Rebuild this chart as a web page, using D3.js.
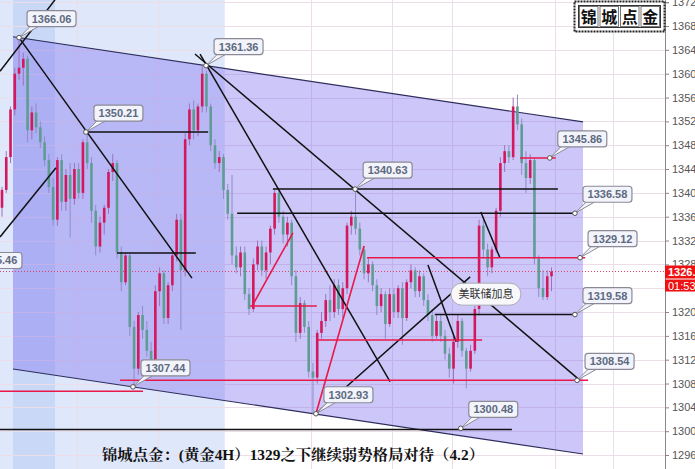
<!DOCTYPE html>
<html><head><meta charset="utf-8">
<script src="https://cdn.jsdelivr.net/npm/d3@7"></script>
<style>html,body{margin:0;padding:0;background:#fff;overflow:hidden}svg{display:block}</style>
</head><body>
<svg id="c" width="695" height="469"></svg>
<script>
// ---------- data ----------
const opens = [1337.5,1340.5,1346,1354,1360,1361,1362.5,1350.5,1353.5,1351,1348.5,1345.5,1341,1335.5,1345.5,1338.5,1343,1339,1344,1340,
1348.5,1345,1337,1331,1335,1337.5,1343.5,1345,1330,1325,1329.5,1317.5,1310.5,1319.5,1317,1313.5,1311,1323.5,1326.5,1319,
1324.5,1329.5,1335.5,1327,1349,1354,1350.5,1354.5,1360,1354.5,1348,1345,1346,1340.5,1336.5,1329.5,1327.5,1330,1323,1320.5,
1328,1331,1327,1330,1334,1340,1336,1333,1335,1326,1316.5,1321.5,1317.5,1310,1309,1316.5,1318.5,1322,1320,1324.5,
1320.5,1324,1334.5,1336,1334,1330.5,1326.5,1328,1324.5,1321,1323,1318,1323,1320,1324,1319,1325,1327,1323.5,1326,
1322,1319.5,1316,1318.5,1316,1313,1310.5,1315,1318.5,1313.5,1310.5,1313.5,1320.5,1334.5,1330.5,1327.5,1330.5,1337,1345,1347,
1346,1354.5,1351.5,1345,1342.5,1345.5,1329,1324,1322.5,1326];
const highs = [1341,1347,1354.5,1361,1366.06,1363.5,1363,1354.5,1355,1352,1349.5,1346.5,1342.5,1346,1346.5,1344,1345,1345,1345,1349,
1350.21,1346,1338,1336,1338,1344,1346.5,1345.5,1331,1330,1330,1318.5,1320,1321,1318.5,1315,1324.5,1327.5,1327,1325,
1330,1336.5,1336.5,1350,1355,1355.5,1355,1361.36,1360.5,1355,1349,1347,1346.5,1341.5,1343,1331,1331,1331,1324,1329,
1332,1332,1331,1334.5,1340.5,1340.5,1337,1336,1335.5,1327,1322.5,1322,1318.5,1311.5,1317,1320,1323,1324.5,1325.5,1325.5,
1325,1335,1337,1340.63,1335,1331,1329,1328.5,1325.5,1324,1323.5,1324,1324,1324.5,1325,1325.5,1328,1327.5,1327,1326.5,
1323,1320.5,1319.5,1319.5,1317,1314,1316,1319.5,1319,1314,1314.5,1321,1335.5,1336,1331.5,1331,1337.5,1346,1348,1348,
1356,1356.5,1352.5,1347,1346.5,1346,1329.5,1327,1327,1327.5];
const lows = [1336,1340,1345,1353,1359,1358,1348.5,1349,1350,1347.5,1344.5,1340,1334.5,1334.5,1337,1337,1332.5,1338,1339,1339,
1344,1335,1329.5,1330,1333,1336.5,1342,1329,1323.5,1324.5,1316,1307.44,1309.5,1315.5,1312.5,1309,1310,1321,1318,1318,
1323.5,1328.5,1317,1326,1348,1349,1349.5,1353.5,1353.5,1347,1344,1343.5,1339,1335.5,1328,1326.5,1326,1322,1319.5,1320,
1327,1326,1325.5,1328,1333,1335,1331.5,1331,1324.5,1315,1315.5,1316.5,1309,1302.93,1308,1315.5,1317.5,1318.5,1319,1319.5,
1319,1323,1333,1333,1329.5,1325.5,1325,1323.5,1319.5,1320,1315.5,1317.5,1319,1319,1314.5,1318.5,1324,1322.5,1322.5,1321,
1318.5,1315,1315.5,1315,1312,1309,1308,1314,1312.5,1307.2,1310,1313,1319.5,1329,1326,1326.5,1330,1336,1343.5,1345,
1345.5,1350.5,1343,1340,1341.5,1328,1322.5,1322,1322,1323.5];
const closes = [1340.5,1346,1354,1360,1361,1362.5,1350.5,1353.5,1351,1348.5,1345.5,1341,1335.5,1345.5,1338.5,1343,1339,1344,1340,1348.5,
1345,1337,1331,1335,1337.5,1343.5,1345,1330,1325,1329.5,1317.5,1310.5,1319.5,1317,1313.5,1311,1323.5,1326.5,1319,1324.5,
1329.5,1335.5,1327,1349,1354,1350.5,1354.5,1360,1354.5,1348,1345,1346,1340.5,1336.5,1329.5,1327.5,1330,1323,1320.5,1328,
1331,1327,1330,1334,1340,1336,1333,1335,1326,1316.5,1321.5,1317.5,1310,1309,1316.5,1318.5,1322,1320,1324.5,1320.5,
1324,1334.5,1336,1334,1330.5,1326.5,1328,1324.5,1321,1323,1318,1323,1320,1324,1319,1325,1327,1323.5,1326,1322,
1319.5,1316,1318.5,1316,1313,1310.5,1315,1318.5,1313.5,1310.5,1313.5,1320.5,1334.5,1330.5,1327.5,1330.5,1337,1345,1347,1346,
1354.5,1351.5,1345,1342.5,1345.5,1329,1324,1322.5,1326,1326.8];

const yTicks = [1296,1300,1304,1308,1312,1316,1320,1324,1328,1332,1336,1340,1344,1348,1352,1356,1360,1364,1368,1372];
const hiddenTickLabels = [1324];   // covered by the live-price box in the reference
const vGridIdx = [17.6, 36.6, 72.5, 91.5, 105.6, 129.8, 143.4];
const currentPrice = 1326.8;
const timerText = "01:53:47";

// channel (index, price)
const channelTop = [[2.58, 1366.2], [136.4, 1351.9]];
const channelBottom = [[2.58, 1310.44], [136.4, 1296.17]];
const blueZone = [-0.5, 52.3];
const blueBand = [2.58, 12.44];

// annotation lines (index, price)
const blackLines = [
  [[4.0,1366.06],[44.6,1325.7]],
  [[-0.47,1332.6],[12.68,1344.2]],
  [[-0.47,1360.4],[12.44,1372.4]],
  [[27.0,1329.9],[45.5,1329.9]],
  [[19.7,1350.21],[48.4,1350.21]],
  [[45.3,1363.3],[135.7,1308.54]],
  [[46.5,1363.3],[91.1,1308.3]],
  [[73.7,1302.93],[109.9,1325.9]],
  [[100.0,1327.9],[106.6,1315.0]],
  [[112.4,1336.8],[116.9,1329.1]],
  [[55.2,1336.58],[134.5,1336.58]],
  [[63.6,1340.63],[130.5,1340.63]],
  [[101.6,1319.58],[134.5,1319.58]],
  [[-0.47,1300.3],[119.7,1300.3]]
];
const redLines = [
  [[85.7,1329.12],[136.9,1329.12]],
  [[121.6,1345.86],[130.0,1345.86]],
  [[27.7,1308.54],[137.6,1308.54]],
  [[-0.47,1306.7],[33.1,1306.7]],
  [[58.7,1321.0],[68.3,1333.3]],
  [[58.2,1321.0],[73.9,1321.0]],
  [[73.9,1315.3],[112.7,1315.3]],
  [[73.7,1302.93],[85.0,1331.1]]
];
// callouts: [index, price, label]
const callouts = [
  [4.0,1366.06,"1366.06"],
  [19.7,1350.21,"1350.21"],
  [47.9,1361.36,"1361.36"],
  [82.9,1340.63,"1340.63"],
  [128.6,1345.86,"1345.86"],
  [134.5,1336.58,"1336.58"],
  [135.7,1329.12,"1329.12"],
  [134.5,1319.58,"1319.58"],
  [135.0,1308.54,"1308.54"],
  [30.75,1307.44,"1307.44"],
  [73.7,1302.93,"1302.93"],
  [107.7,1300.48,"1300.48"],
  [-8.7,1325.46,"1325.46"]
];
const noteText = "美联储加息";
const noteAt = [113.6, 1323.0];
const titleText = "锦城点金：(黄金4H）1329之下继续弱势格局对待（4.2）";
const logoChars = ["锦","城","点","金"];

// ---------- scales ----------
const W = 695, H = 469, axisX = 665;
const x = d3.scaleLinear().domain([0, closes.length - 1]).range([2, 551.5]);
const y = d3.scaleLinear().domain([1296, 1372]).range([455.03, 2.2]);

const svg = d3.select("#c");
svg.append("rect").attr("width", W).attr("height", H).attr("fill", "#ffffff");

// blue zone
svg.append("rect").attr("x", x(blueZone[0])).attr("y", 0)
  .attr("width", x(blueZone[1]) - x(blueZone[0])).attr("height", H).attr("fill", "#dfe7fb");
svg.append("rect").attr("x", x(blueBand[0])).attr("y", 0)
  .attr("width", x(blueBand[1]) - x(blueBand[0])).attr("height", H).attr("fill", "#cad8f7");

// grid
const grid = svg.append("g");
grid.selectAll("line.h").data(yTicks).join("line").attr("class","h")
  .attr("x1", 0).attr("x2", axisX).attr("y1", d => Math.round(y(d)) + 0.5).attr("y2", d => Math.round(y(d)) + 0.5)
  .attr("stroke", "#eddde8").attr("stroke-width", 1);
grid.selectAll("line.v").data(vGridIdx).join("line").attr("class","v")
  .attr("x1", d => Math.round(x(d)) + 0.5).attr("x2", d => Math.round(x(d)) + 0.5).attr("y1", 0).attr("y2", H)
  .attr("stroke", "#eddde8").attr("stroke-width", 1);

// channel
const poly = [channelTop[0], channelTop[1], channelBottom[1], channelBottom[0]];
svg.append("path").attr("d", "M" + poly.map(p => [x(p[0]), y(p[1])].join(",")).join("L") + "Z")
  .attr("fill", "#7c6cf0").attr("fill-opacity", 0.38);
[channelTop, channelBottom].forEach(seg => {
  svg.append("line").attr("x1", x(seg[0][0])).attr("y1", y(seg[0][1]))
    .attr("x2", x(seg[1][0])).attr("y2", y(seg[1][1]))
    .attr("stroke", "#2e2e5c").attr("stroke-width", 1.2);
});

// current price dotted line
svg.append("line").attr("x1", 0).attr("x2", axisX).attr("y1", y(currentPrice)).attr("y2", y(currentPrice))
  .attr("stroke", "#e0406a").attr("stroke-width", 1).attr("stroke-dasharray", "1,2");

// candles
const cw = 2.6;
const cg = svg.append("g");
closes.forEach((c, i) => {
  const o = opens[i], up = c >= o;
  const cx = x(i);
  cg.append("line").attr("x1", cx).attr("x2", cx).attr("y1", y(highs[i])).attr("y2", y(lows[i]))
    .attr("stroke", up ? "#a070b8" : "#8e8cc8").attr("stroke-width", 1);
  const top = y(Math.max(o, c)), bot = y(Math.min(o, c));
  cg.append("rect").attr("x", cx - cw / 2).attr("y", top).attr("width", cw).attr("height", Math.max(1, bot - top))
    .attr("fill", up ? "#d2185e" : "#5f9c94");
});

// lines
const lg = svg.append("g");
blackLines.forEach(s => lg.append("line")
  .attr("x1", x(s[0][0])).attr("y1", y(s[0][1])).attr("x2", x(s[1][0])).attr("y2", y(s[1][1]))
  .attr("stroke", "#111").attr("stroke-width", 1.5));
redLines.forEach(s => lg.append("line")
  .attr("x1", x(s[0][0])).attr("y1", y(s[0][1])).attr("x2", x(s[1][0])).attr("y2", y(s[1][1]))
  .attr("stroke", "#e8184a").attr("stroke-width", 1.6));

// callouts
const cgp = svg.append("g");
callouts.forEach(([ci, cp, label]) => {
  const px = x(ci), py = y(cp);
  const bw = 49, bh = 16, bx = px + 8, by = py - 27;
  cgp.append("path").attr("d", `M${bx + 4},${by + bh - 1}L${px},${py}L${bx + 13},${by + bh - 1}Z`)
    .attr("fill", "#f3f3fb").attr("stroke", "#8a8a96").attr("stroke-width", 1);
  cgp.append("rect").attr("x", bx).attr("y", by).attr("width", bw).attr("height", bh).attr("rx", 3)
    .attr("fill", "#f3f3fb").attr("stroke", "#8a8a96").attr("stroke-width", 1.2);
  cgp.append("text").attr("x", bx + bw / 2).attr("y", by + 12).attr("text-anchor", "middle")
    .attr("font-family", "Liberation Sans, Arial, sans-serif").attr("font-size", 11).attr("font-weight", "bold")
    .attr("fill", "#5c6a80").text(label);
  cgp.append("circle").attr("cx", px).attr("cy", py).attr("r", 2.3)
    .attr("fill", "#fff").attr("stroke", "#555").attr("stroke-width", 1);
});

// note pill
const nx = x(noteAt[0]), ny = y(noteAt[1]);
svg.append("rect").attr("x", nx - 35).attr("y", ny - 11).attr("width", 70).attr("height", 22).attr("rx", 11)
  .attr("fill", "#f8f8fb").attr("stroke", "#aaaab4").attr("stroke-width", 1);
svg.append("text").attr("x", nx).attr("y", ny + 4).attr("text-anchor", "middle")
  .attr("font-family", "Noto Sans CJK SC, sans-serif").attr("font-size", 11).attr("fill", "#333").text(noteText);

// axis
const axis = d3.axisRight(y).tickValues(yTicks)
  .tickFormat(d => hiddenTickLabels.includes(d) ? "" : d3.format(".2f")(d)).tickSize(4).tickPadding(3);
const ag = svg.append("g").attr("transform", `translate(${axisX},0)`).call(axis);
ag.select(".domain").attr("stroke", "#888");
ag.selectAll(".tick line").attr("stroke", "#888");
ag.selectAll(".tick text").attr("font-family", "Liberation Sans, Arial, sans-serif").attr("font-size", 11).attr("fill", "#555");
svg.append("line").attr("x1", axisX + 0.5).attr("x2", axisX + 0.5).attr("y1", 0).attr("y2", H).attr("stroke", "#888");

// current price label
const cy = y(currentPrice);
svg.append("rect").attr("x", axisX).attr("y", cy - 6).attr("width", 32).attr("height", 13).attr("fill", "#ee1111");
svg.append("text").attr("x", axisX + 3).attr("y", cy + 4).attr("font-family", "Liberation Sans, Arial, sans-serif")
  .attr("font-size", 11).attr("font-weight", "bold").attr("fill", "#fff").text(currentPrice.toFixed(2));
svg.append("rect").attr("x", axisX).attr("y", cy + 8).attr("width", 32).attr("height", 12).attr("fill", "#ee1111");
svg.append("text").attr("x", axisX + 3).attr("y", cy + 18).attr("font-family", "Liberation Sans, Arial, sans-serif")
  .attr("font-size", 11).attr("fill", "#fff").text(timerText);

// title
svg.append("text").attr("x", 102).attr("y", 460)
  .attr("font-family", "Liberation Serif, Noto Serif CJK SC, Noto Sans CJK SC, serif")
  .attr("font-size", 15).attr("font-weight", "bold").attr("fill", "#111")
  .attr("textLength", 382).attr("lengthAdjust", "spacingAndGlyphs").text(titleText);

// logo
const lgp = svg.append("g");
lgp.append("rect").attr("x", 574.5).attr("y", 1.5).attr("width", 90).attr("height", 30)
  .attr("fill", "#fff").attr("stroke", "#222").attr("stroke-width", 2).attr("stroke-dasharray", "2,1");
lgp.append("rect").attr("x", 578.5).attr("y", 5.5).attr("width", 82).attr("height", 22)
  .attr("fill", "none").attr("stroke", "#333").attr("stroke-width", 1);
logoChars.forEach((ch, k) => {
  const cx0 = 578.5 + k * 20.5;
  lgp.append("rect").attr("x", cx0 + 1).attr("y", 6.5).attr("width", 18.5).attr("height", 20)
    .attr("fill", "none").attr("stroke", "#555").attr("stroke-width", 0.8);
  lgp.append("text").attr("x", cx0 + 10.25).attr("y", 22.5).attr("text-anchor", "middle")
    .attr("font-family", "Noto Sans CJK SC, serif").attr("font-size", 16).attr("font-weight", "bold")
    .attr("fill", "#111").text(ch);
});
</script>
</body></html>
